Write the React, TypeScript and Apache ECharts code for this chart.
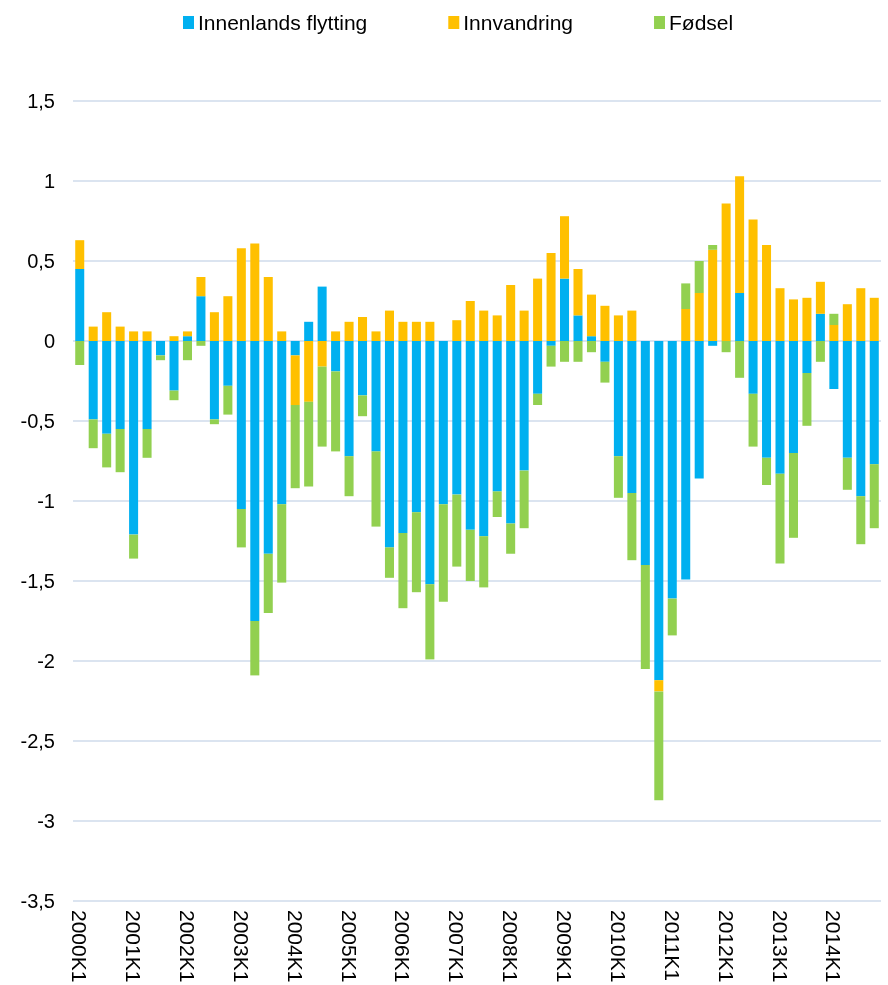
import React, { useEffect, useRef } from "react";
import * as echarts from "echarts";

const years = [2000, 2001, 2002, 2003, 2004, 2005, 2006, 2007, 2008, 2009, 2010, 2011, 2012, 2013, 2014];
const quarters = ["K1", "K2", "K3", "K4"];
const categories: string[] = [];
years.forEach((y) => quarters.forEach((q) => categories.push(`${y}${q}`)));

const innenlands = [
  0.45, -0.49, -0.58, -0.55, -1.21, -0.55, -0.09, -0.31, 0.03, 0.28,
  -0.49, -0.28, -1.05, -1.75, -1.33, -1.02, -0.09, 0.12, 0.34, -0.19,
  -0.72, -0.34, -0.69, -1.29, -1.2, -1.07, -1.52, -1.02, -0.96, -1.18,
  -1.22, -0.94, -1.14, -0.81, -0.33, -0.03, 0.39, 0.16, 0.03, -0.13,
  -0.72, -0.95, -1.4, -2.12, -1.61, -1.49, -0.86, -0.03, 0, 0.3,
  -0.33, -0.73, -0.83, -0.7, -0.2, 0.17, -0.3, -0.73, -0.97, -0.77,
];
const innvandring = [
  0.18, 0.09, 0.18, 0.09, 0.06, 0.06, 0, 0.03, 0.03, 0.12,
  0.18, 0.28, 0.58, 0.61, 0.4, 0.06, -0.31, -0.38, -0.16, 0.06,
  0.12, 0.15, 0.06, 0.19, 0.12, 0.12, 0.12, 0, 0.13, 0.25,
  0.19, 0.16, 0.35, 0.19, 0.39, 0.55, 0.39, 0.29, 0.26, 0.22,
  0.16, 0.19, 0, -0.07, 0, 0.2, 0.3, 0.57, 0.86, 0.73,
  0.76, 0.6, 0.33, 0.26, 0.27, 0.2, 0.1, 0.23, 0.33, 0.27,
];
const fodsel = [
  -0.15, -0.18, -0.21, -0.27, -0.15, -0.18, -0.03, -0.06, -0.12, -0.03,
  -0.03, -0.18, -0.24, -0.34, -0.37, -0.49, -0.52, -0.53, -0.5, -0.5,
  -0.25, -0.13, -0.47, -0.19, -0.47, -0.5, -0.47, -0.61, -0.45, -0.32,
  -0.32, -0.16, -0.19, -0.36, -0.07, -0.13, -0.13, -0.13, -0.07, -0.13,
  -0.26, -0.42, -0.65, -0.68, -0.23, 0.16, 0.2, 0.03, -0.07, -0.23,
  -0.33, -0.17, -0.56, -0.53, -0.33, -0.13, 0.07, -0.2, -0.3, -0.4,
];

const seriesNames = ["Innenlands flytting", "Innvandring", "Fødsel"];
const seriesColors = ["#00B0F0", "#FFC000", "#92D050"];

export default function App() {
  const ref = useRef<HTMLDivElement>(null);
  useEffect(() => {
    if (!ref.current) return;
    const chart = echarts.init(ref.current, undefined, { renderer: "svg" });
    const dataSets = [innenlands, innvandring, fodsel];
    chart.setOption({
      animation: false,
      textStyle: { fontFamily: "Liberation Sans, Arial, sans-serif" },
      legend: {
        top: 7,
        left: 178,
        itemWidth: 11,
        itemHeight: 13,
        itemGap: 81,
        icon: "rect",
        textStyle: { fontSize: 21, color: "#000", padding: [0, 0, 0, -1] },
        data: seriesNames,
      },
      grid: {
        left: 73,
        right: 7,
        top: 101,
        bottom: 84,
        containLabel: false,
        outerBoundsMode: "none",
      },
      xAxis: {
        type: "category",
        data: categories,
        axisLine: { show: false },
        axisTick: { show: false },
        axisLabel: {
          interval: 3,
          rotate: -90,
          fontSize: 21,
          color: "#000",
          margin: 9,
        },
      },
      yAxis: {
        type: "value",
        min: -3.5,
        max: 1.5,
        interval: 0.5,
        axisLine: { show: false },
        axisTick: { show: false },
        splitLine: { lineStyle: { color: "#dbe4f0", width: 1.8 } },
        axisLabel: {
          fontSize: 20,
          color: "#000",
          margin: 18,
          formatter: (v: number) => String(Math.round(v * 10) / 10).replace(".", ","),
        },
      },
      series: seriesNames.map((name, i) => ({
        name,
        type: "bar",
        stack: "total",
        barCategoryGap: "33%",
        itemStyle: { color: seriesColors[i] },
        data: dataSets[i],
      })),
    });
    return () => chart.dispose();
  }, []);
  return (
    <div
      ref={ref}
      style={{ position: "fixed", left: 0, top: 0, width: 888, height: 985 }}
    />
  );
}
